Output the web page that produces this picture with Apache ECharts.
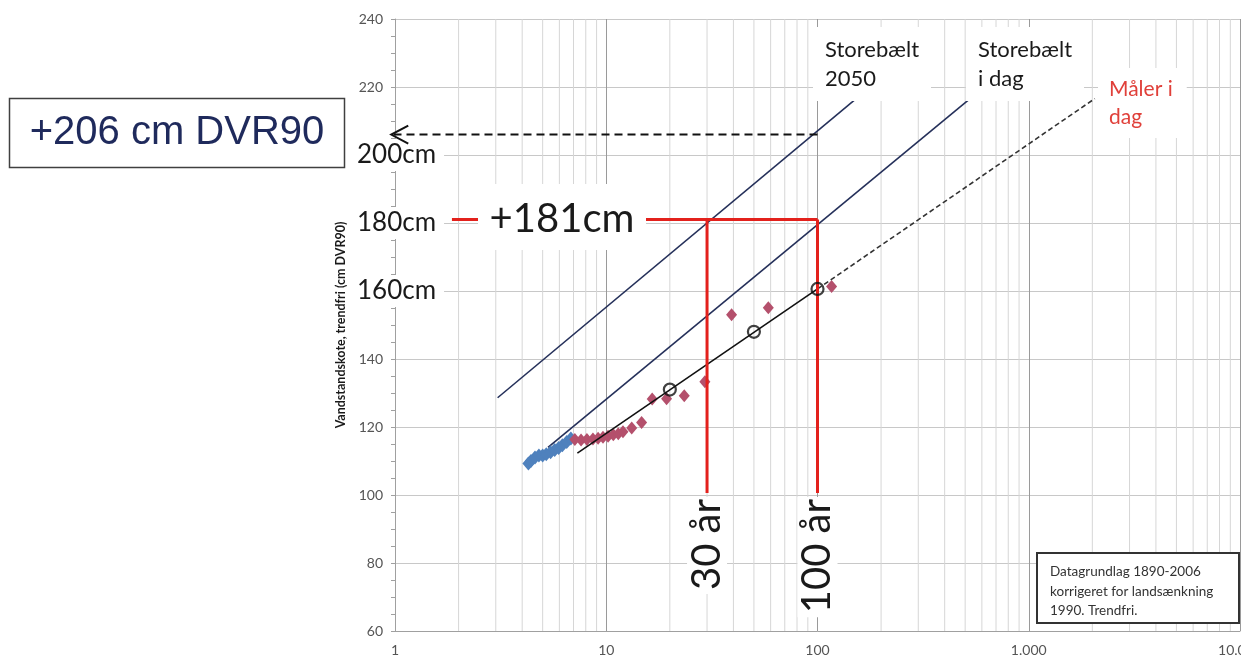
<!DOCTYPE html>
<html><head><meta charset="utf-8">
<script src="https://cdn.jsdelivr.net/npm/echarts@6/dist/echarts.min.js"></script>
<style>html,body{margin:0;padding:0;background:#fff}#c{width:1241px;height:659px}</style>
</head><body><div id="c"></div>
<script>
// ---- data ----
const xMin = 1, xMax = 10000;
const yMin = 60, yMax = 240, yStep = 20;
const bigYLabels = {200: '200cm', 180: '180cm', 160: '160cm'};
const minorGridX = [2,3,4,5,6,7,8,9,20,30,40,50,60,70,80,90,200,300,400,500,600,700,800,900,2000,3000,4000,5000,6000,7000,8000,9000];

const blueX = [4.28, 4.4, 4.6, 4.8, 5.0, 5.2, 5.45, 5.7, 5.95, 6.2, 6.5, 6.8];
const blueY = [109.3, 110.0, 111.0, 111.6, 111.6, 112.0, 112.6, 113.2, 113.8, 114.6, 115.6, 116.6];
const redX = [7.1, 7.6, 8.1, 8.65, 9.15, 9.65, 10.2, 10.8, 11.4, 12.0, 13.2, 14.7, 16.5, 19.3, 23.4, 29.3, 39.2, 58.5, 116.6];
const redY = [116.3, 116.2, 116.3, 116.5, 116.7, 117.0, 117.3, 117.7, 118.0, 118.6, 119.7, 121.3, 128.2, 128.3, 129.2, 133.3, 153.0, 155.1, 161.3];

const sb2050X = [3.06, 154];   const sb2050Y = [128.6, 216.8];
const sbTodayX = [5.3, 526];   const sbTodayY = [114.0, 216.5];
const fitX = [7.3, 100];       const fitY = [112.3, 160.6];
const fitExtX = [100, 2055];   const fitExtY = [160.6, 216.6];
const returnX = [20, 50, 100]; const returnY = [131, 148, 160.6];

const level181X = [1.86, 100]; const level181Y = [181, 181];
const yr30X = [30, 30];        const yr30Y = [181, 100.6];
const yr100X = [100, 100];     const yr100Y = [181, 100.6];
const arrowX = [100, 0.96];    const arrowY = [206, 206];

const zip = (xs, ys) => xs.map((x, i) => [x, ys[i]]);
const FONT = 'Lato, "Open Sans", sans-serif';

const chart = echarts.init(document.getElementById('c'));

const series = [];
minorGridX.forEach(v => series.push({
  type: 'line', data: [[v, yMin], [v, yMax]], symbol: 'none', silent: true, z: 1,
  lineStyle: {color: '#d6d6d6', width: 1}
}));
function line(xs, ys, color, width, type, z, clip) {
  return {type: 'line', data: zip(xs, ys), symbol: 'none', z: z || 3, clip: clip !== false,
    lineStyle: {color, width, type: type || 'solid'}};
}
series.push(line(sb2050X, sb2050Y, '#25305a', 1.6));
series.push(line(sbTodayX, sbTodayY, '#25305a', 1.6));
series.push({type: 'scatter', data: zip(blueX, blueY), symbol: 'diamond', symbolSize: [12, 14], z: 4,
  itemStyle: {color: '#4f81bd', opacity: 1}});
series.push({type: 'scatter', data: zip(redX, redY), symbol: 'diamond', symbolSize: [11, 13], z: 4,
  itemStyle: {color: '#b4506c', opacity: 1}});
series.push(line(fitX, fitY, '#111', 1.6, 'solid', 5));
series.push(line(fitExtX, fitExtY, '#333', 1.6, [5, 3], 5));
series.push(line(level181X, level181Y, '#e3211c', 3, 'solid', 6));
series.push(line(yr30X, yr30Y, '#e3211c', 3, 'solid', 6));
series.push(line(yr100X, yr100Y, '#e3211c', 3, 'solid', 6));
series.push({type: 'scatter', data: zip(returnX, returnY), symbol: 'circle', symbolSize: 12, z: 7,
  itemStyle: {color: 'rgba(255,255,255,0)', borderColor: '#111', borderWidth: 2.2}});
series.push(line(arrowX, arrowY, '#111', 2, [8, 5], 9, false));

chart.setOption({
  animation: false,
  backgroundColor: '#fff',
  grid: {left: 395, right: 1, top: 19, bottom: 28, containLabel: false, outerBoundsMode: 'none'},
  xAxis: {
    type: 'log', logBase: 10, min: xMin, max: xMax,
    axisLine: {show: true, lineStyle: {color: '#a0a0a0'}},
    axisTick: {show: false},
    axisLabel: {color: '#555', fontFamily: FONT, fontSize: 14, margin: 12, hideOverlap: false,
      formatter: v => String(Math.round(v)).replace(/\B(?=(\d{3})+(?!\d))/g, '.')},
    splitLine: {show: true, lineStyle: {color: '#9a9a9a', width: 1}}
  },
  yAxis: {
    type: 'value', min: yMin, max: yMax, interval: yStep,
    axisLine: {show: true, lineStyle: {color: '#a0a0a0'}},
    axisTick: {show: true, length: 4, lineStyle: {color: '#a0a0a0'}},
    minorTick: {show: true, splitNumber: 4, length: 4, lineStyle: {color: '#a0a0a0'}},
    axisLabel: {color: '#555', fontFamily: FONT, fontSize: 14, margin: 12,
      formatter: v => bigYLabels[v] ? '' : String(v)},
    splitLine: {show: true, lineStyle: {color: '#c8c8c8', width: 1}}
  },
  series
});

function P(x, y) { return chart.convertToPixel({xAxisIndex: 0, yAxisIndex: 0}, [x, y]); }

const g = [];
// big y labels
Object.keys(bigYLabels).forEach(k => {
  const p = P(1, Number(k));
  g.push({type: 'text', x: 355, y: p[1], z: 20,
    style: {text: bigYLabels[k], fontFamily: FONT, fontSize: 26, fill: '#1a1a1a',
      align: 'left', verticalAlign: 'middle', backgroundColor: '#fff', padding: [3, 8, 3, 2]}});
});
// +181cm
{
  const a = P(1.86, 181);
  g.push({type: 'rect', z: 20, shape: {x: 478, y: 184, width: 168, height: 66}, style: {fill: '#fff'}});
  g.push({type: 'text', x: 562, y: a[1] - 1, z: 21,
    style: {text: '+181cm', fontFamily: FONT, fontSize: 40, fill: '#1a1a1a', align: 'center', verticalAlign: 'middle'}});
}
// year labels
[[30, '30 år'], [100, '100 år']].forEach(([xv, t]) => {
  const p = P(xv, 100.6);
  g.push({type: 'text', x: p[0], y: p[1] + 4, rotation: Math.PI / 2, z: 20,
    style: {text: t, fontFamily: FONT, fontSize: 40, fill: '#1a1a1a', align: 'right', verticalAlign: 'middle',
      backgroundColor: '#fff', padding: [0, 2, 0, 4]}});
});
// line labels
g.push({type: 'text', x: 813, y: 27, z: 20, style: {text: 'Storebælt\n2050', fontFamily: FONT, fontSize: 22,
  lineHeight: 29, fill: '#1a1a1a', align: 'left', verticalAlign: 'top', backgroundColor: '#fff', padding: [8, 12, 8, 12]}});
g.push({type: 'text', x: 966, y: 27, z: 20, style: {text: 'Storebælt\ni dag', fontFamily: FONT, fontSize: 22,
  lineHeight: 29, fill: '#1a1a1a', align: 'left', verticalAlign: 'top', backgroundColor: '#fff', padding: [8, 12, 8, 12]}});
g.push({type: 'text', x: 1098, y: 68, z: 20, style: {text: 'Måler i\ndag', fontFamily: FONT, fontSize: 21,
  lineHeight: 28, fill: '#e0403a', align: 'left', verticalAlign: 'top', backgroundColor: '#fff', padding: [7, 14, 7, 11]}});
// source box
g.push({type: 'rect', z: 20, shape: {x: 1037, y: 553, width: 202, height: 70},
  style: {fill: '#fff', stroke: '#333', lineWidth: 2}});
g.push({type: 'text', x: 1050, y: 562, z: 21, style: {text: 'Datagrundlag 1890-2006\nkorrigeret for landsænkning\n1990. Trendfri.',
  fontFamily: FONT, fontSize: 13.5, lineHeight: 19.5, fill: '#333', align: 'left', verticalAlign: 'top'}});
// y axis title
{
  const mid = (P(1, yMin)[1] + P(1, yMax)[1]) / 2;
  g.push({type: 'text', x: 341, y: mid, rotation: Math.PI / 2, z: 20,
    style: {text: 'Vandstandskote, trendfri (cm DVR90)', fontFamily: FONT, fontSize: 12.5, fontWeight: 'bold',
      fill: '#1a1a1a', align: 'center', verticalAlign: 'middle'}});
}
// arrow head
{
  const t = P(arrowX[1], arrowY[1]);
  g.push({type: 'polyline', z: 30, shape: {points: [[t[0] + 17, t[1] - 9], [t[0], t[1]], [t[0] + 17, t[1] + 9]]},
    style: {stroke: '#111', lineWidth: 2, fill: null}});
}
// DVR90 box
g.push({type: 'rect', z: 20, shape: {x: 9.5, y: 98.5, width: 335, height: 69},
  style: {fill: '#fff', stroke: '#404040', lineWidth: 1.5}});
g.push({type: 'text', x: 177, y: 133, z: 21, style: {text: '+206 cm DVR90', fontFamily: '"Liberation Sans", Arial, sans-serif',
  fontSize: 40, fill: '#1f2a5c', align: 'center', verticalAlign: 'middle'}});

chart.setOption({graphic: {elements: g}});
</script></body></html>
